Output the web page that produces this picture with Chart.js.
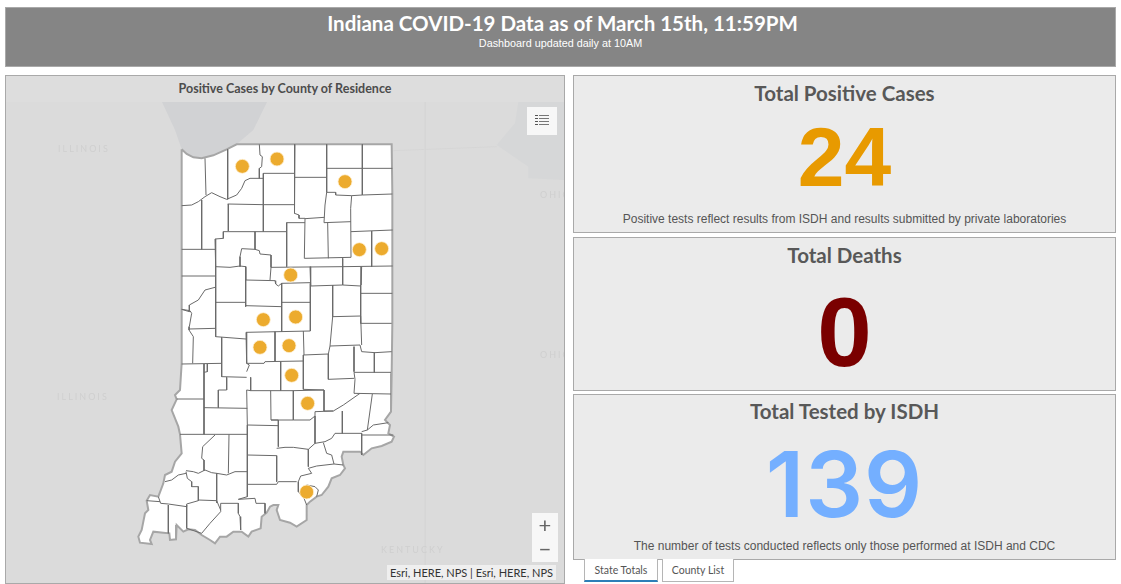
<!DOCTYPE html>
<html>
<head>
<meta charset="utf-8">
<script src="https://cdn.jsdelivr.net/npm/chart.js@4"></script>
<style>
html, body { margin: 0; padding: 0; background: #fff; width: 1121px; height: 584px; overflow: hidden; }
div { position: absolute; box-sizing: border-box; }
#header { left: 5px; top: 7px; width: 1111px; height: 60px; background: #858585; border: 1px solid #a9a9a9; color: #fff; text-align: center; }
#header .t { left: 4px; right: 0; top: 3px; font: 700 20.5px Lato, sans-serif; }
#header .s { left: 0; right: 0; top: 29px; font: 10.8px "Liberation Sans", sans-serif; }
#map { left: 5px; top: 75px; width: 560px; height: 509px; background: #dbdbdb; border: 1px solid #a9a9a9; overflow: hidden; }
#map canvas { position: absolute; left: 0; top: 0; }
#band { left: 0; top: 0; width: 558px; height: 26px; background: #dddddd; text-align: center; font: 700 12.5px/26px Lato, sans-serif; color: #4c4c4c; }
.ghost { font: 9px Lato, sans-serif; letter-spacing: 2px; color: #cfcfcf; }
.btn { background: #f7f7f7; }
.card { left: 573px; width: 543px; background: #ebebeb; border: 1px solid #a9a9a9; text-align: center; color: #555; }
.card .h { left: 0; right: 0; font: 700 20.5px Lato, sans-serif; color: #585858; }
.card .n { left: 0; right: 0; font-family: "Liberation Sans", sans-serif; }
.card .f { left: 0; right: 0; font: 12px "Liberation Sans", sans-serif; }
.tab { top: 559px; height: 23px; background: #fff; border: 1px solid #b5b5b5; border-top: none; font: 10.5px/22px Lato, sans-serif; color: #555; text-align: center; }
</style>
</head>
<body>
<div id="header"><div class="t">Indiana COVID-19 Data as of March 15th, 11:59PM</div><div class="s">Dashboard updated daily at 10AM</div></div>
<div id="map">
	<canvas id="mapChart" width="558" height="507"></canvas>
	<div id="band">Positive Cases by County of Residence</div>
	<div class="ghost" style="left:52px;top:67px">ILLINOIS</div>
	<div class="ghost" style="left:51px;top:315px">ILLINOIS</div>
	<div class="ghost" style="left:534px;top:113px">OHIO</div>
	<div class="ghost" style="left:534px;top:273px">OHIO</div>
	<div class="ghost" style="left:375px;top:468px">KENTUCKY</div>
	<div class="btn" style="left:521px;top:31px;width:30px;height:28px">
		<div style="left:8px;top:8px;width:3px;height:1px;background:#555;box-shadow:0 3px #555,0 6px #555,0 9px #555"></div>
		<div style="left:12px;top:8px;width:10px;height:1px;background:#777;box-shadow:0 3px #777,0 6px #777,0 9px #777"></div>
	</div>
	<div class="btn" style="left:526px;top:437px;width:26px;height:49px;font:22px/24px Lato,sans-serif;color:#666;text-align:center">+<br>&minus;</div>
	<div style="left:381px;top:489px;width:169px;height:15px;background:#efefef;font:11px/15px Lato,sans-serif;color:#333;text-align:center;white-space:nowrap">Esri, HERE, NPS | Esri, HERE, NPS</div>
</div>
<div class="card" style="top:75px;height:158px">
	<div class="h" style="top:5px" id="h0"></div>
	<div class="n" style="top:33px;font-size:84px;font-weight:700;color:#e89a00" id="n0"></div>
	<div class="f" style="top:136px" id="f0"></div>
</div>
<div class="card" style="top:237px;height:154px">
	<div class="h" style="top:5px" id="h1"></div>
	<div class="n" style="top:38px;font-size:98px;font-weight:700;color:#7a0000" id="n1"></div>
</div>
<div class="card" style="top:394px;height:166px">
	<div class="h" style="top:4px" id="h2"></div>
	<div class="n" style="top:34px;font-family:Inter,sans-serif;font-size:91px;font-weight:600;letter-spacing:1px;color:#74afff" id="n2"></div>
	<div class="f" style="top:144px" id="f2"></div>
</div>
<div class="tab" style="left:584px;width:74px;border-bottom:2px solid #2c7fb8">State Totals</div>
<div class="tab" style="left:662px;width:72px">County List</div>
<script>
// Dashboard numbers
const cardTitles = ['Total Positive Cases', 'Total Deaths', 'Total Tested by ISDH'];
const cardValues = [24, 0, 139];
const cardNotes = [
	'Positive tests reflect results from ISDH and results submitted by private laboratories',
	'',
	'The number of tests conducted reflects only those performed at ISDH and CDC',
];

// Counties with positive cases, in map units
const caseCounties = [
	[337, 109], [441, 87], [645, 155], [688, 359], [755, 356], [482, 435], [497, 561],
	[400, 569], [390, 652], [477, 647], [485, 736], [533, 820], [530, 1086],
];

const stateOutline = [
	[155,58],[170,72],[190,82],[215,85],[250,76],[290,58],[320,43],[785,43],[787,190],[788,300],[788,410],
	[786,490],[786,580],[785,730],[783,790],[783,845],[765,870],[780,885],[775,910],[792,920],[785,935],
	[755,948],[725,955],[700,975],[690,965],[640,965],[635,980],[640,1005],[645,1015],[630,1035],[605,1045],
	[595,1070],[575,1095],[560,1100],[540,1115],[530,1125],[530,1170],[500,1190],[480,1178],[450,1170],
	[440,1140],[445,1125],[430,1125],[420,1130],[410,1148],[395,1160],[392,1195],[365,1205],[355,1220],
	[335,1205],[310,1205],[290,1220],[270,1220],[255,1240],[240,1230],[215,1215],[195,1200],[175,1198],
	[160,1205],[140,1185],[138,1228],[120,1230],[118,1210],[100,1208],[70,1205],[60,1230],[65,1242],
	[30,1238],[25,1220],[35,1200],[40,1175],[45,1150],[55,1140],[50,1112],[60,1095],[85,1100],[100,1060],
	[105,1035],[125,1025],[135,995],[155,970],[150,913],[145,890],[125,840],[140,808],[135,795],[150,780],
	[155,700],[155,58],
];

const countyLines = [
	// north
	[[225,85],[228,195]],
	[[155,227],[185,225],[205,215],[225,200],[245,188],[270,200],[290,208],[320,195],[335,175],[345,152],[360,145],[400,145]],
	[[293,58],[293,208]],
	[[388,43],[390,75],[397,80],[395,110],[388,115],[388,145]],
	[[400,130],[495,130]],
	[[400,130],[400,305]],
	[[495,43],[495,225],[492,250],[507,255],[507,265],[525,265]],
	[[495,142],[590,142]],
	[[590,43],[590,187],[617,187],[617,195],[665,197],[697,195],[787,192]],
	[[697,43],[697,195]],
	[[590,115],[787,115]],
	[[590,187],[585,225],[582,278],[663,275]],
	[[665,197],[662,235],[663,382]],
	[[583,262],[525,266]],
	[[293,222],[400,224],[492,224]],
	[[295,222],[295,303]],
	[[280,305],[400,305],[468,305]],
	[[470,278],[525,278]],
	[[470,278],[470,410]],
	[[525,265],[523,385],[663,382]],
	[[593,278],[595,385]],
	[[663,305],[788,300]],
	[[725,303],[725,410]],
	[[638,385],[638,465]],
	[[638,410],[788,408]],
	[[280,305],[280,325],[255,327],[257,410]],
	[[375,305],[375,358],[335,356],[330,380],[330,410]],
	[[375,358],[388,362],[390,372],[423,375],[423,412],[420,450]],
	[[155,358],[255,358]],
	[[215,210],[215,358]],
	[[155,438],[255,438]],
	[[257,410],[300,412],[330,408],[347,410],[347,450],[435,452],[437,462],[445,468],[455,460],[540,458]],
	[[423,412],[638,410]],
	[[540,410],[542,468],[638,465]],
	[[347,410],[347,530]],
	[[257,410],[257,620],[348,627]],
	[[257,517],[347,517]],
	[[347,527],[455,530]],
	[[455,460],[455,605]],
	[[455,517],[540,517]],
	[[541,460],[541,603]],
	[[348,607],[541,603]],
	[[255,472],[225,480],[205,510],[178,525],[178,545],[155,538]],
	[[155,538],[180,542],[185,550],[178,590],[177,600],[190,620],[188,700]],
	[[177,597],[257,595]],
	[[608,465],[608,560],[600,648]],
	[[608,560],[692,558],[695,645]],
	[[692,465],[692,580],[785,580]],
	[[692,490],[787,490]],
	[[638,465],[692,468]],
	[[695,410],[693,465]],
	[[348,607],[350,700],[402,700],[405,695],[520,693]],
	[[435,605],[435,695]],
	[[520,603],[522,675]],
	// middle
	[[155,702],[275,700]],
	[[275,622],[275,740],[350,742]],
	[[350,725],[358,705],[350,700]],
	[[520,675],[595,672],[600,648],[690,645],[695,665],[735,668],[785,665]],
	[[672,650],[672,725]],
	[[733,668],[733,727]],
	[[672,727],[783,727]],
	[[520,675],[520,778]],
	[[595,672],[595,748],[672,745]],
	[[672,727],[675,748],[672,790]],
	[[672,790],[783,792]],
	[[690,790],[640,825],[610,843],[582,843]],
	[[582,780],[582,843]],
	[[520,778],[582,780]],
	[[362,742],[362,782],[490,782],[582,780]],
	[[452,695],[452,782]],
	[[490,782],[490,870],[540,870],[555,858],[555,845],[610,843]],
	[[422,782],[423,870],[490,870]],
	[[350,780],[352,885],[445,887]],
	[[350,780],[362,782]],
	[[445,870],[445,950]],
	[[423,870],[445,870]],
	[[555,858],[555,940],[585,935],[605,925],[615,910],[695,910]],
	[[637,843],[637,910]],
	[[727,792],[712,900]],
	[[695,910],[695,975]],
	[[695,915],[790,915]],
	[[695,905],[712,900],[730,885],[775,878]],
	// south
	[[222,702],[222,913],[150,913]],
	[[232,702],[232,725],[222,727]],
	[[140,807],[222,807]],
	[[290,742],[290,780],[265,780],[265,833]],
	[[222,833],[352,835]],
	[[222,913],[352,913]],
	[[352,885],[352,1100]],
	[[255,915],[218,950],[215,985],[222,990],[222,1022]],
	[[297,913],[295,1030]],
	[[352,975],[440,977]],
	[[352,1063],[440,1063],[445,1055],[500,1055]],
	[[440,977],[440,1055]],
	[[440,955],[465,952],[490,952],[535,958],[535,1010]],
	[[535,958],[555,940]],
	[[580,938],[590,970],[605,975],[612,1002],[560,1008],[535,1015],[545,1030],[512,1038],[505,1055],[505,1085],[522,1105],[530,1125]],
	[[640,1005],[612,1002]],
	[[530,1065],[555,1070],[565,1080],[560,1100]],
	[[105,1055],[125,1050],[145,1035],[168,1030]],
	[[168,1025],[172,1045],[185,1055],[185,1070],[205,1070],[205,1112]],
	[[168,1022],[190,1025],[205,1030],[225,1020],[245,1028],[260,1030],[290,1035],[315,1025],[352,1025]],
	[[260,1030],[260,1118]],
	[[205,1110],[260,1112],[272,1140]],
	[[85,1100],[92,1120],[115,1122],[170,1130],[170,1122],[205,1112]],
	[[50,1112],[90,1115]],
	[[115,1125],[115,1210]],
	[[170,1125],[170,1195],[215,1210]],
	[[215,1210],[240,1180],[272,1145],[272,1120],[325,1120]],
	[[325,1120],[325,1150],[330,1160],[332,1200]],
	[[325,1108],[375,1105],[378,1120],[405,1120],[405,1150]],
	[[352,1100],[325,1108]],
];

// Basemap
const lakeMichigan = [[96,-84],[135,0],[155,58],[170,72],[190,82],[215,85],[250,76],[290,58],[320,43],[370,0],[411,-84],[96,-84]];
const lakeErie = [[1165,-84],[1155,-20],[1100,45],[1195,110],[1195,145],[1302,150],[1302,-84],[1165,-84]];
const stateBorders = [
	[[885,-84],[885,1359]],
	[[790,62],[1100,50]],
];

function toPoints(pairs) {
	return pairs.map(([x, y]) => ({ x, y }));
}

function lineDataset(pairs, color, width, fillColor) {
	return {
		type: 'scatter',
		data: toPoints(pairs),
		showLine: true,
		pointRadius: 0,
		borderColor: color,
		borderWidth: width,
		tension: 0,
		fill: fillColor ? 'shape' : false,
		backgroundColor: fillColor || 'transparent',
	};
}

cardTitles.forEach((title, i) => {
	document.getElementById('h' + i).textContent = title;
	document.getElementById('n' + i).textContent = cardValues[i];
	const note = document.getElementById('f' + i);
	if (note) note.textContent = cardNotes[i];
});

// Chart.js paints the first dataset last, so the top layer goes first
const datasets = [{
	type: 'scatter',
	data: toPoints(caseCounties),
	pointRadius: 7,
	pointBackgroundColor: '#ecab2e',
	pointBorderColor: 'rgba(255,240,210,0.8)',
	pointBorderWidth: 1,
	showLine: false,
}];
countyLines.forEach((l) => datasets.push(lineDataset(l, '#6a6a6a', 1)));
datasets.push(lineDataset(stateOutline, '#a6a6a6', 2, '#ffffff'));
stateBorders.forEach((l) => datasets.push(lineDataset(l, '#d6d6d6', 1)));
datasets.push(lineDataset(lakeErie, 'transparent', 0, '#d6d7d8'));
datasets.push(lineDataset(lakeMichigan, 'transparent', 0, '#d1d2d4'));

new Chart(document.getElementById('mapChart').getContext('2d'), {
	type: 'scatter',
	data: { datasets },
	options: {
		responsive: false,
		animation: false,
		layout: { padding: 0, autoPadding: false },
		plugins: { legend: { display: false }, tooltip: { enabled: false } },
		scales: {
			x: { type: 'linear', display: false, min: -372, max: 1302 },
			y: { type: 'linear', display: false, reverse: true, min: -162, max: 1359 },
		},
	},
});
</script>
</body>
</html>
